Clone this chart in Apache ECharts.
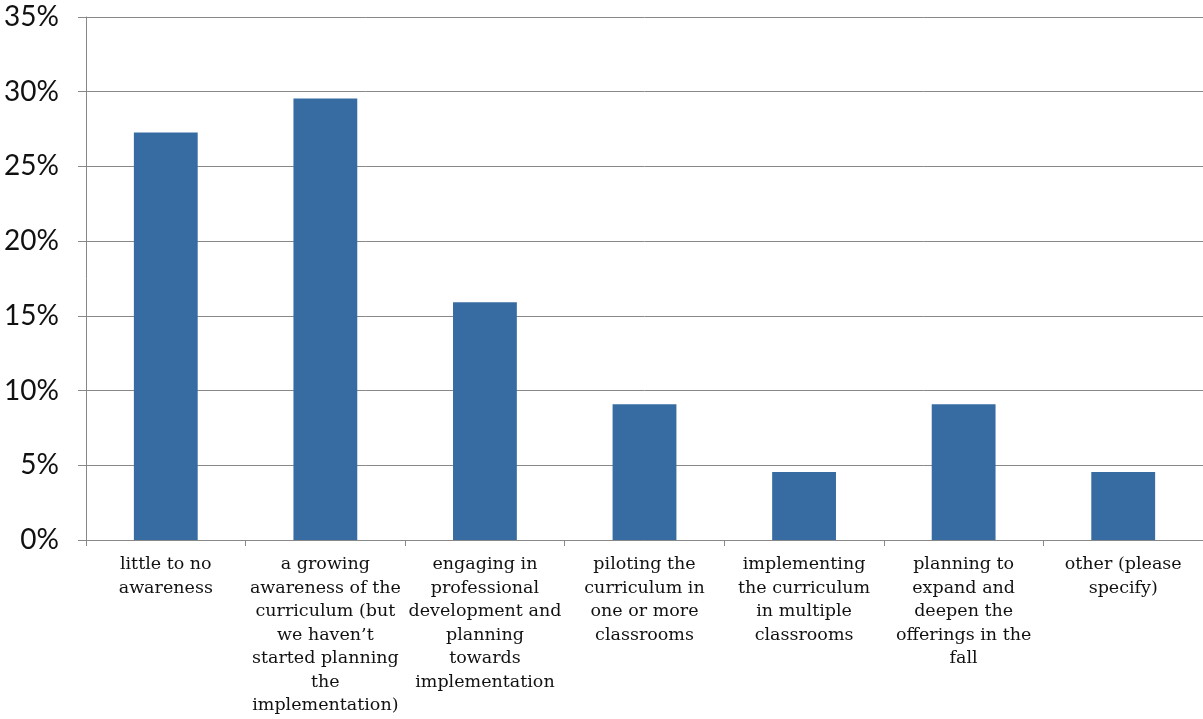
<!DOCTYPE html>
<html><head><meta charset="utf-8">
<script src="https://cdn.jsdelivr.net/npm/echarts@6/dist/echarts.min.js"></script>
<style>html,body{margin:0;padding:0;background:#fff}#c{width:1203px;height:719px}</style>
</head><body><div id="c"></div>
<script>
const categories = [
  "little to no\nawareness",
  "a growing\nawareness of the\ncurriculum (but\nwe haven\u2019t\nstarted planning\nthe\nimplementation)",
  "engaging in\nprofessional\ndevelopment and\nplanning\ntowards\nimplementation",
  "piloting the\ncurriculum in\none or more\nclassrooms",
  "implementing\nthe curriculum\nin multiple\nclassrooms",
  "planning to\nexpand and\ndeepen the\nofferings in the\nfall",
  "other (please\nspecify)"
];
const values = [27.27, 29.55, 15.91, 9.09, 4.55, 9.09, 4.55];
const yTicks = [0, 5, 10, 15, 20, 25, 30, 35];

const chart = echarts.init(document.getElementById('c'));
chart.setOption({
  animation: false,
  grid: {left: 86, right: 0, top: 17, bottom: 179, containLabel: false},
  xAxis: {
    type: 'category', data: categories,
    axisLine: {lineStyle: {color: '#888', width: 1}},
    axisTick: {show: true, length: 6, lineStyle: {color: '#888'}},
    axisLabel: {interval: 0, color: '#111', fontFamily: 'DejaVu Serif', fontSize: 17.5, lineHeight: 23.5, margin: 13}
  },
  yAxis: {
    type: 'value', min: 0, max: 35, interval: 5,
    axisLine: {show: true, lineStyle: {color: '#888'}},
    axisTick: {show: true, length: 8, lineStyle: {color: '#888'}},
    splitLine: {lineStyle: {color: '#888', width: 1}},
    axisLabel: {color: '#111', fontFamily: 'Lato', fontSize: 28, margin: 27,
      formatter: v => yTicks.includes(v) ? v + '%' : ''}
  },
  series: [{
    type: 'bar', data: values, barWidth: '40%',
    itemStyle: {color: '#376ca3'}
  }]
});
</script></body></html>
